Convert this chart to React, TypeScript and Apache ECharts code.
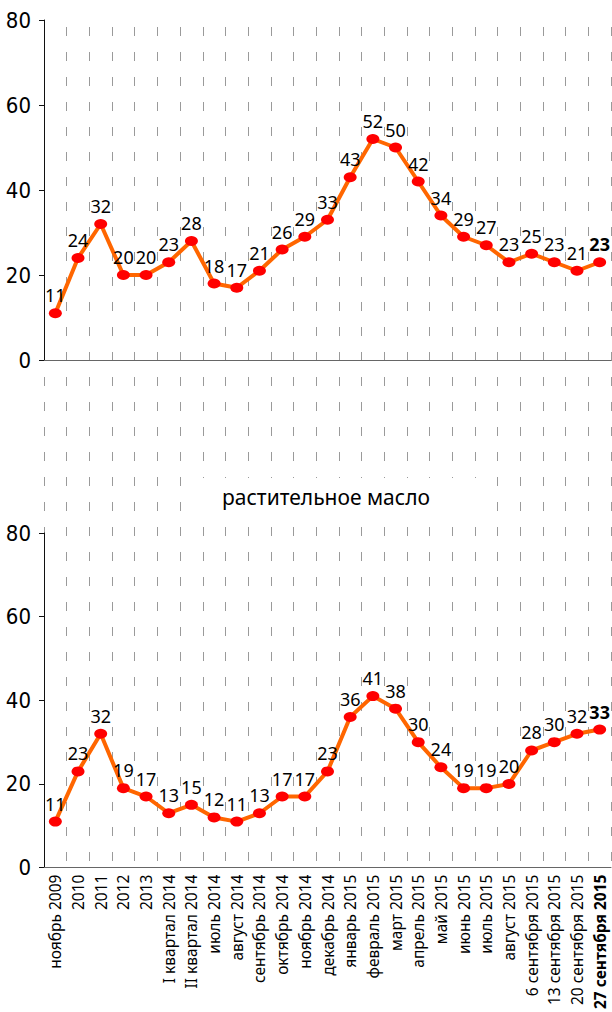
import React, { useEffect, useRef } from "react";
import * as echarts from "echarts";

const categories = [
  "ноябрь 2009", "2010", "2011", "2012", "2013", "I квартал 2014", "II квартал 2014",
  "июль 2014", "август 2014", "сентябрь 2014", "октябрь 2014", "ноябрь 2014",
  "декабрь 2014", "январь 2015", "февраль 2015", "март 2015", "апрель 2015",
  "май 2015", "июнь 2015", "июль 2015", "август 2015", "6 сентября 2015",
  "13 сентября 2015", "20 сентября 2015", "27 сентября 2015",
];

const topValues = [11, 24, 32, 20, 20, 23, 28, 18, 17, 21, 26, 29, 33, 43, 52, 50, 42, 34, 29, 27, 23, 25, 23, 21, 23];
const bottomValues = [11, 23, 32, 19, 17, 13, 15, 12, 11, 13, 17, 17, 23, 36, 41, 38, 30, 24, 19, 19, 20, 28, 30, 32, 33];

const bottomTitle = "растительное масло";
const yMin = 0;
const yMax = 80;
const yStep = 20;

const FONT = "'Noto Sans', 'DejaVu Sans', sans-serif";
const NARROW = "'Liberation Sans Narrow', 'DejaVu Sans Condensed', 'Noto Sans', sans-serif";

function markData(values: number[]) {
  const last = values.length - 1;
  return values.map((v, i) =>
    i === last ? { value: v, label: { fontWeight: "bold" } } : v
  );
}

function yAxisCfg(gridIndex: number) {
  return {
    type: "value",
    gridIndex,
    min: yMin,
    max: yMax,
    interval: yStep,
    axisLine: { show: true, lineStyle: { color: "#111", width: 1 } },
    axisTick: { show: true, length: 5, lineStyle: { color: "#111" } },
    splitLine: { show: false },
    axisLabel: { color: "#000", fontSize: 22, fontFamily: NARROW, margin: 13 },
  };
}

function seriesCfg(values: number[], idx: number) {
  return {
    type: "line",
    xAxisIndex: idx,
    yAxisIndex: idx,
    data: markData(values),
    symbol: "circle",
    symbolSize: [13, 10],
    itemStyle: { color: "#ff0000" },
    lineStyle: { color: "#ff6600", width: 4 },
    label: {
      show: true,
      position: "top",
      distance: 4,
      color: "#000",
      fontSize: 18,
      fontFamily: FONT,
    },
    z: 5,
  };
}

export default function App() {
  const ref = useRef<HTMLDivElement>(null);
  useEffect(() => {
    if (!ref.current) return;
    const chart = echarts.init(ref.current, undefined, { renderer: "svg" });
    const last = categories.length - 1;
    chart.setOption({
      animation: false,
      backgroundColor: "#ffffff",
      grid: [
        { left: 44, top: 20, width: 567, height: 340 },
        { left: 44, top: 533, width: 567, height: 335 },
        { left: 44, top: 27, width: 567, height: 841 },
      ],
      xAxis: [
        {
          type: "category",
          gridIndex: 0,
          data: categories,
          axisLine: { lineStyle: { color: "#666" } },
          axisTick: { length: 5, interval: 0, lineStyle: { color: "#666" } },
          axisLabel: { show: false, interval: 0 },
          splitLine: { show: false },
        },
        {
          type: "category",
          gridIndex: 1,
          data: categories,
          axisLine: { lineStyle: { color: "#666" } },
          axisTick: { length: 5, interval: 0, lineStyle: { color: "#666" } },
          axisLabel: {
            rotate: 90,
            interval: 0,
            margin: 7,
            color: "#000",
            fontSize: 15.5,
            fontFamily: FONT,
            formatter: (v: string, i: number) => (i === last ? `{b|${v}}` : v),
            rich: { b: { fontWeight: "bold", fontSize: 15.5, fontFamily: FONT, color: "#000" } },
          },
          splitLine: { show: false },
        },
        {
          type: "category",
          gridIndex: 2,
          data: categories,
          axisLine: { show: false },
          axisTick: { show: false, interval: 0 },
          axisLabel: { show: false, interval: 0 },
          splitLine: {
            show: true,
            interval: 0,
            lineStyle: { color: "#9a9a9a", width: 1, type: [9, 16] },
          },
          z: 0,
        },
      ],
      yAxis: [
        yAxisCfg(0),
        yAxisCfg(1),
        { type: "value", gridIndex: 2, min: 0, max: 1, show: false },
      ],
      series: [seriesCfg(topValues, 0), seriesCfg(bottomValues, 1)],
      graphic: [
        {
          type: "rect",
          shape: { x: 192, y: 478, width: 294, height: 38 },
          style: { fill: "#ffffff" },
          z: 100,
        },
        {
          type: "text",
          x: 326,
          y: 497,
          style: {
            text: bottomTitle,
            fontSize: 21,
            fontWeight: "normal",
            fontFamily: FONT,
            fill: "#000",
            align: "center",
            verticalAlign: "middle",
          },
          z: 101,
        },
      ],
    });
    return () => chart.dispose();
  }, []);
  return (
    <div
      ref={ref}
      style={{ position: "fixed", left: 0, top: 0, width: 612, height: 1012 }}
    />
  );
}
